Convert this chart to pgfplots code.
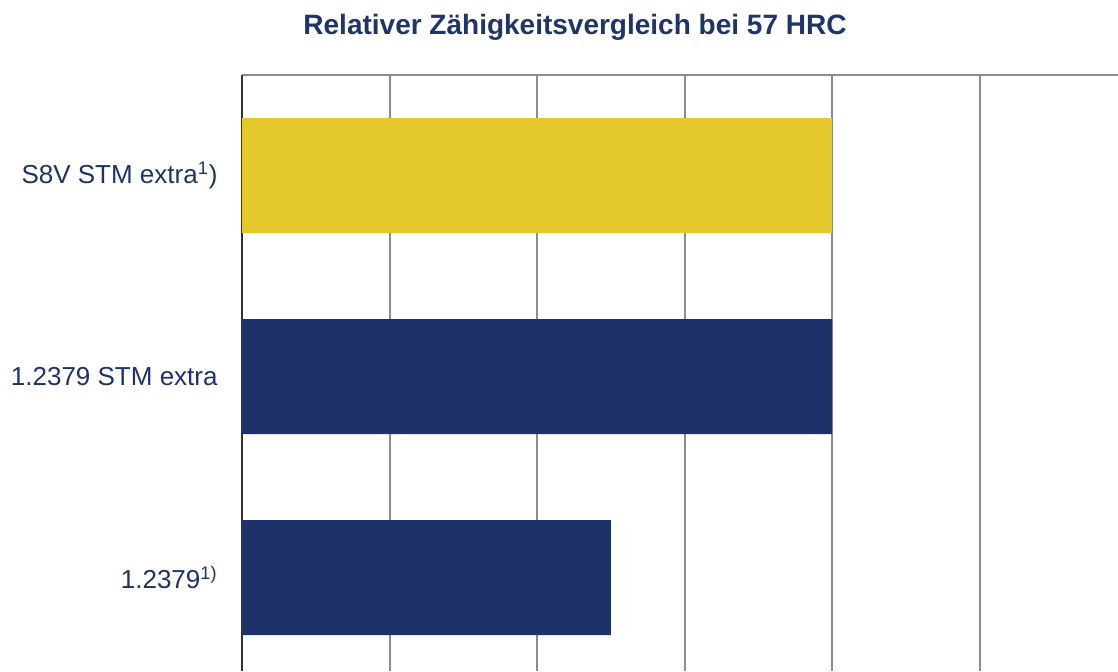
\documentclass[border=0pt]{standalone}
\usepackage{pgfplots}
\pgfplotsset{compat=1.18}
\usepackage{fontspec}
\setmainfont{Liberation Sans}
\definecolor{dblue}{HTML}{1D3269}
\definecolor{tblue}{HTML}{1F3468}
\definecolor{ylw}{HTML}{E5C829}
\definecolor{gridgray}{HTML}{8C8C8C}
\begin{document}
\begin{tikzpicture}
\begin{axis}[
  at={(121pt,-37.5pt)}, anchor=north west,
  scale only axis,
  width=438pt, height=298pt,
  xmin=0, xmax=5.939,
  ymin=-0.465, ymax=2.5,
  axis x line=top, axis y line=left,
  x axis line style={-, gridgray, line width=1pt},
  y axis line style={-, black!80, line width=1pt},
  xtick={0,1,2,3,4,5},
  xticklabels={},
  xmajorgrids,
  major grid style={gridgray, line width=1pt},
  major tick length=0pt,
  ytick={0,1,2},
  yticklabels={1.2379\textsuperscript{1)},1.2379 STM extra,S8V STM extra\textsuperscript{1})},
  yticklabel style={font=\fontsize{13pt}{15pt}\selectfont, text=dblue, inner sep=0pt, xshift=-12pt},
  xbar, bar width=57.5pt, bar shift=0pt,
]
\addplot[fill=ylw, draw=none] coordinates {(4,2)};
\addplot[fill=dblue, draw=none] coordinates {(4,1) (2.5,0)};
\end{axis}
\node[font=\bfseries\fontsize{14pt}{16pt}\selectfont, text=tblue] at (287.5pt,-13.5pt) {Relativer Zähigkeitsvergleich bei 57 HRC};
\pgfresetboundingbox
\useasboundingbox (0,0) rectangle (559pt,-335.5pt);
\end{tikzpicture}
\end{document}
